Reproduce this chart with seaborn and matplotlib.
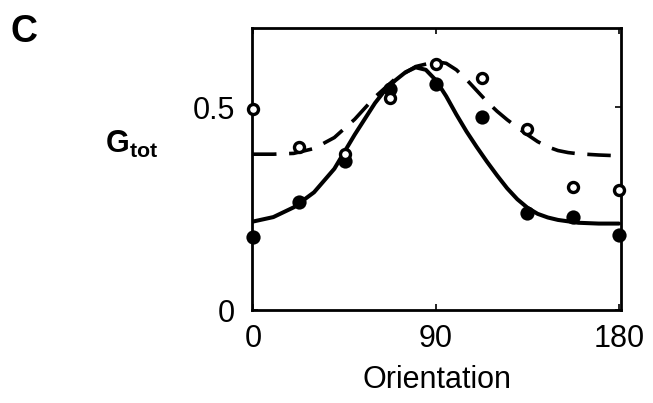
import matplotlib
matplotlib.use("Agg")
import matplotlib.pyplot as plt
import seaborn as sns
import pandas as pd

# ---- data ----
orient_pts = [0, 22.5, 45, 67.5, 90, 112.5, 135, 157.5, 180]
gtot_closed = [0.181, 0.265, 0.366, 0.545, 0.557, 0.475, 0.240, 0.228, 0.186]
gtot_open = [0.495, 0.401, 0.385, 0.522, 0.606, 0.572, 0.446, 0.302, 0.295]

orient_solid = [0, 10, 20, 30, 40, 50, 60, 65, 70, 75, 80, 85, 90, 95, 100, 105,
                110, 115, 120, 125, 130, 135, 140, 145, 150, 160, 170, 180]
gtot_solid = [0.218, 0.229, 0.253, 0.290, 0.348, 0.432, 0.510, 0.542, 0.566,
              0.586, 0.598, 0.592, 0.566, 0.527, 0.482, 0.440, 0.402, 0.366,
              0.332, 0.300, 0.273, 0.252, 0.237, 0.228, 0.222, 0.215, 0.213,
              0.213]

orient_dash = [0, 10, 20, 30, 40, 50, 60, 70, 80, 90, 95, 100, 105, 110, 115,
               120, 125, 130, 135, 140, 145, 150, 155, 160, 170, 180]
gtot_dash = [0.384, 0.384, 0.386, 0.398, 0.425, 0.470, 0.525, 0.570, 0.600,
             0.612, 0.608, 0.592, 0.568, 0.541, 0.514, 0.490, 0.469, 0.450,
             0.432, 0.415, 0.402, 0.393, 0.388, 0.385, 0.382, 0.380]

xticks = [0, 90, 180]
yticks = [0, 0.5]
yticklabels = ["0", "0.5"]

sns.set_style("ticks")
plt.rcParams["font.family"] = ["Liberation Sans", "DejaVu Sans"]
plt.rcParams["mathtext.fontset"] = "custom"
plt.rcParams["mathtext.bf"] = "Liberation Sans:bold"
plt.rcParams["mathtext.rm"] = "Liberation Sans"
plt.rcParams["text.color"] = "black"
plt.rcParams["axes.labelcolor"] = "black"
plt.rcParams["xtick.color"] = "black"
plt.rcParams["ytick.color"] = "black"

fig = plt.figure(figsize=(6.53, 4.03), dpi=100)
ax = fig.add_axes([252 / 653, 1 - 310 / 403, (621 - 252) / 653, (310 - 28) / 403])

df_solid = pd.DataFrame({"x": orient_solid, "y": gtot_solid})
df_dash = pd.DataFrame({"x": orient_dash, "y": gtot_dash})
df_pts = pd.DataFrame({"x": orient_pts, "closed": gtot_closed, "open": gtot_open})

sns.lineplot(data=df_dash, x="x", y="y", ax=ax, color="black", lw=2.6,
             sort=False, estimator=None)
ax.lines[-1].set_dashes([6.5, 3.5])
sns.lineplot(data=df_solid, x="x", y="y", ax=ax, color="black", lw=2.9,
             sort=False, estimator=None)
sns.scatterplot(data=df_pts, x="x", y="closed", ax=ax, color="black", s=105,
                edgecolor="black", linewidth=0, zorder=4, clip_on=False)
sns.scatterplot(data=df_pts, x="x", y="open", ax=ax, facecolor="white", s=52,
                edgecolor="black", linewidth=2.4, zorder=5, clip_on=False)

ax.set_xlim(-0.5, 181)
ax.set_ylim(0, 0.695)
ax.set_xticks(xticks)
ax.set_xticklabels([str(t) for t in xticks])
ax.set_yticks(yticks)
ax.set_yticklabels(yticklabels)
ax.tick_params(direction="in", length=4, width=1.2, labelsize=22, pad=10,
               top=True, right=True, colors="black")
ax.tick_params(axis="y", pad=12)
for sp in ax.spines.values():
    sp.set_visible(True)
    sp.set_linewidth(2.0)
    sp.set_color("black")
ax.set_xlabel("Orientation", fontsize=22, labelpad=8, color="black")
ax.set_ylabel("")

fig.text(10 / 653, 1 - 42 / 403, "C", fontsize=27, fontweight="bold",
         va="baseline", ha="left", color="black")
fig.text(105 / 653, 1 - 153 / 403, r"$\mathbf{G}_{\mathbf{tot}}$", fontsize=22,
         va="baseline", ha="left", color="black")

fig.savefig("out.png", dpi=100, facecolor="white")
